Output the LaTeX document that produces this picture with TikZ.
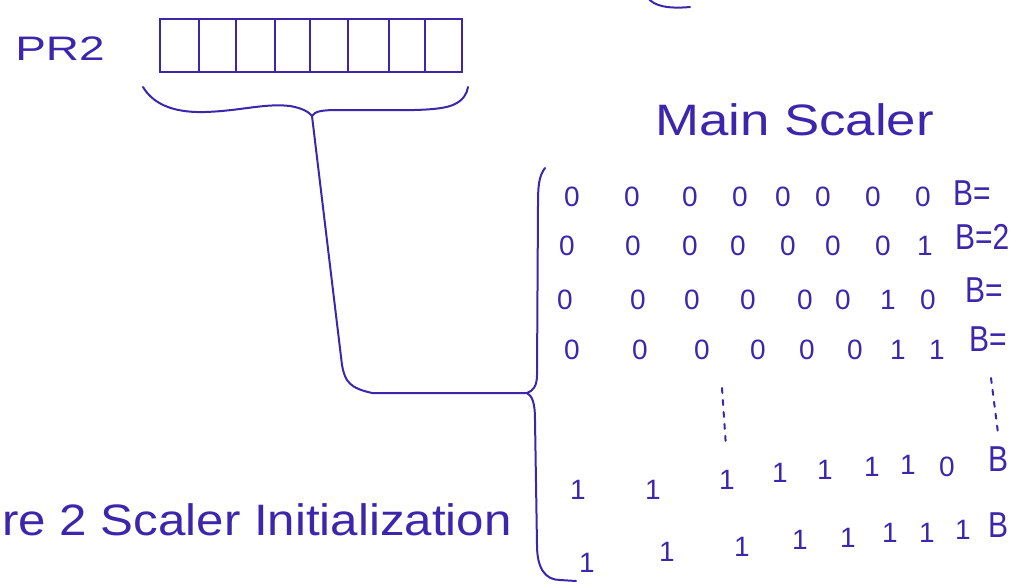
\documentclass[tikz,border=0pt]{standalone}
\usepackage{fontspec}
\setmainfont{Liberation Sans}
\definecolor{inkc}{RGB}{62,38,172}
\begin{document}
\begin{tikzpicture}[x=1pt,y=-1pt,
  ink/.style={draw=inkc, line width=2pt, line cap=round, line join=round},
  dots/.style={draw=inkc, line width=2pt, line cap=round, dash pattern=on 5pt off 7pt},
  cell/.style={draw=inkc, line width=2pt, minimum height=53pt, inner sep=0pt, outer sep=0pt, anchor=north west},
  lbl/.style={text=inkc, inner sep=0pt},
  dig/.style={text=inkc, inner sep=0pt, font=\fontsize{28}{28}\selectfont},
  bee/.style={text=inkc, inner sep=0pt, anchor=west, yscale=1.2, font=\fontsize{30}{30}\selectfont}]
\useasboundingbox (0,0) rectangle (1010,584);
\fill[white] (0,0) rectangle (1010,584);

% label PR2
\node[lbl, anchor=base west, font=\fontsize{34}{34}\selectfont, xscale=1.35] (pr) at (15,60) {PR2};

% register cells
\node[cell, minimum width=39pt] (c1) at (160,19) {};
\node[cell, minimum width=37pt] (c2) at (199,19) {};
\node[cell, minimum width=39pt] (c3) at (236,19) {};
\node[cell, minimum width=35pt] (c4) at (275,19) {};
\node[cell, minimum width=38pt] (c5) at (310,19) {};
\node[cell, minimum width=41pt] (c6) at (348,19) {};
\node[cell, minimum width=36pt] (c7) at (389,19) {};
\node[cell, minimum width=37pt] (c8) at (425,19) {};

% small brace under the register
\coordinate (btip) at (312,116);
\draw[ink] (143,87) .. controls (152,102) and (170,113) .. (205,112)
  .. controls (240,111) and (265,103) .. (290,106)
  .. controls (302,108) and (309,112) .. (btip)
  .. controls (315,111) and (322,110) .. (340,110)
  .. controls (400,110) and (440,112) .. (455,104)
  .. controls (463,100) and (467,94) .. (468,87);

% big brace left of the table
\coordinate (Btip) at (527,393);
\draw[ink] (545,168) .. controls (539,176) and (538,185) .. (538,205)
  -- (537,375) .. controls (537,386) and (533,391) .. (Btip)
  .. controls (532,396) and (535,402) .. (535,420)
  -- (537,545) .. controls (537,568) and (545,580) .. (560,580) -- (576,581);

% connector from the register brace to the table brace
\draw[ink] (btip) -- (342,365)
  .. controls (345,382) and (350,388) .. (372,393) -- (Btip);

% fragment at top
\draw[ink] (690,7) .. controls (668,9) and (654,6) .. (648,-2);

% title
\node[lbl, anchor=base west, font=\fontsize{44}{44}\selectfont, xscale=1.2] (title) at (655,135) {Main Scaler};

% bottom-left caption
\node[lbl, anchor=base west, font=\fontsize{44}{44}\selectfont, xscale=1.12] (cap) at (2,535) {re 2 Scaler Initialization};

% table rows
\foreach \x/\b [count=\i] in {572/0,632/0,690/0,740/0,783/0,823/0,873/0,923/0}
  \node[dig] (a\i) at (\x,197) {\b};
\node[bee] (ba) at (953,193) {B=};
\foreach \x/\b [count=\i] in {567/0,633/0,690/0,738/0,788/0,833/0,883/0,925/1}
  \node[dig] (b\i) at (\x,246) {\b};
\node[bee] (bb) at (955,237) {B=2};
\foreach \x/\b [count=\i] in {565/0,638/0,692/0,748/0,805/0,843/0,888/1,928/0}
  \node[dig] (e\i) at (\x,300) {\b};
\node[bee] (be) at (965,290) {B=};
\foreach \x/\b [count=\i] in {572/0,640/0,702/0,758/0,807/0,855/0,898/1,937/1}
  \node[dig] (f\i) at (\x,350) {\b};
\node[bee] (bf) at (969,339) {B=};
\foreach \x/\y/\b [count=\i] in {578/490/1,653/490/1,727/480/1,780/473/1,825/470/1,872/467/1,908/465/1,947/467/0}
  \node[dig] (g\i) at (\x,\y) {\b};
\node[bee] (bg) at (988,459) {B};
\foreach \x/\y [count=\i] in {587/563,667/552,742/547,800/540,848/538,890/533,927/533,963/530}
  \node[dig] (h\i) at (\x,\y) {1};
\node[bee] (bh) at (988,525) {B};

% vertical ellipsis marks
\coordinate (d1) at (722,388);
\coordinate (d2) at (726,447);
\coordinate (d3) at (991,378);
\coordinate (d4) at (998,433);
\draw[dots] (d1) -- (d2);
\draw[dots] (d3) -- (d4);
\end{tikzpicture}
\end{document}
